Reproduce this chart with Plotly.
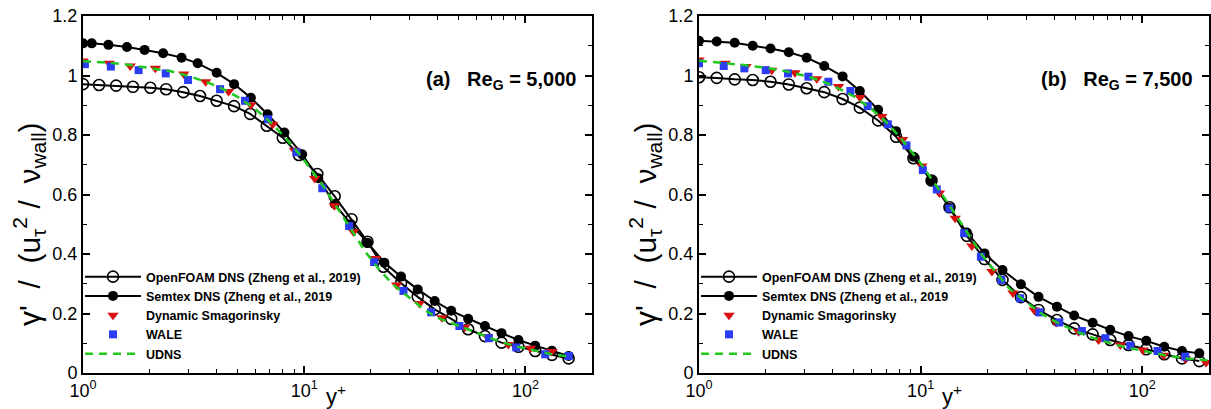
import plotly.graph_objects as go

# ---------------- Re_G = 5,000 ----------------
a_of_x = [1.0, 1.182, 1.412, 1.682, 2.016, 2.376, 2.84, 3.38, 4.02, 4.82, 5.70, 6.77, 8.0, 9.46,
          11.46, 13.73, 16.36, 19.33, 22.79, 27.4, 32.6, 38.9, 46.2, 55.1, 65.6, 78.0, 93.0,
          110.7, 131.8, 156.8]
a_of_y = [0.971, 0.968, 0.966, 0.962, 0.959, 0.954, 0.944, 0.931, 0.915, 0.897, 0.871, 0.831,
          0.791, 0.733, 0.669, 0.594, 0.517, 0.441, 0.357, 0.302, 0.256, 0.214, 0.182, 0.147,
          0.124, 0.102, 0.088, 0.074, 0.061, 0.049]

a_sx_x = [1.0, 1.095, 1.303, 1.580, 1.899, 2.303, 2.79, 3.30, 4.02, 4.82, 5.74, 6.83, 8.14, 9.79,
          11.58, 13.73, 16.27, 19.33, 23.03, 27.4, 32.6, 38.9, 46.2, 55.1, 65.6, 78.0, 93.0,
          110.7, 131.8, 156.8]
a_sx_y = [1.108, 1.108, 1.103, 1.096, 1.086, 1.075, 1.060, 1.041, 1.009, 0.971, 0.925, 0.870,
          0.808, 0.735, 0.655, 0.568, 0.500, 0.438, 0.371, 0.324, 0.281, 0.242, 0.209, 0.182,
          0.158, 0.134, 0.111, 0.092, 0.075, 0.057]

a_ds_x = [1.0, 1.313, 1.635, 2.124, 2.855, 3.585, 4.55, 5.74, 7.21, 9.03, 11.16, 13.69, 16.70,
          21.02, 26.18, 33.2, 41.96, 53.2, 67.2, 83.7, 105.4, 131.7]
a_ds_y = [1.049, 1.041, 1.032, 1.024, 1.005, 0.979, 0.946, 0.901, 0.836, 0.749, 0.654, 0.562,
          0.475, 0.385, 0.296, 0.234, 0.186, 0.154, 0.123, 0.096, 0.083, 0.072]

a_wale_x = [1.02, 1.336, 1.784, 2.366, 2.985, 4.165, 5.40, 6.86, 9.23, 12.07, 15.96, 20.7, 28.1,
            37.5, 50.3, 68.4, 90.9, 122.9, 156.8]
a_wale_y = [1.038, 1.030, 1.018, 1.007, 0.985, 0.954, 0.915, 0.853, 0.742, 0.621, 0.494, 0.373,
            0.276, 0.204, 0.158, 0.117, 0.086, 0.063, 0.057]

a_udns_x = [1, 1.3, 1.6, 2, 2.5, 3, 3.5, 4, 4.5, 5, 6, 7, 8, 9, 10, 12, 14, 16, 19, 22, 25, 30,
            35, 40, 50, 60, 75, 90, 110, 130, 157]
a_udns_y = [1.048, 1.043, 1.036, 1.026, 1.014, 0.998, 0.982, 0.965, 0.947, 0.928, 0.888, 0.844,
            0.800, 0.757, 0.715, 0.635, 0.560, 0.492, 0.405, 0.345, 0.300, 0.252, 0.212, 0.186,
            0.158, 0.135, 0.108, 0.090, 0.075, 0.064, 0.055]

# ---------------- Re_G = 7,500 ----------------
b_grid_x = [1.0, 1.202, 1.449, 1.747, 2.102, 2.541, 3.058, 3.674, 4.445, 5.317, 6.43, 7.75, 9.28,
            11.20, 13.49, 16.17, 19.41, 23.41, 28.34, 34.03, 41.2, 49.3, 59.7, 71.7, 86.7, 104.2,
            125.7, 151.1, 180.8]
b_of_y = [0.994, 0.992, 0.987, 0.985, 0.979, 0.970, 0.957, 0.944, 0.921, 0.892, 0.849, 0.794,
          0.722, 0.647, 0.557, 0.461, 0.383, 0.313, 0.255, 0.212, 0.178, 0.150, 0.130, 0.111,
          0.094, 0.080, 0.063, 0.049, 0.040]
b_sx_y = [1.117, 1.114, 1.110, 1.100, 1.091, 1.078, 1.060, 1.032, 0.997, 0.948, 0.885, 0.813,
          0.727, 0.647, 0.555, 0.472, 0.402, 0.346, 0.298, 0.256, 0.223, 0.193, 0.169, 0.145,
          0.124, 0.108, 0.088, 0.074, 0.066]

b_ds_x = [1.0, 1.31, 1.63, 2.13, 2.71, 3.40, 4.26, 5.33, 6.68, 8.29, 10.13, 12.16, 14.32, 17.03,
          20.97, 26.08, 32.54, 40.9, 51.6, 63.5, 79.6, 100.7, 124.8, 156.4, 193.9]
b_ds_y = [1.052, 1.041, 1.030, 1.018, 1.009, 0.989, 0.963, 0.926, 0.862, 0.785, 0.696, 0.605,
          0.520, 0.427, 0.341, 0.269, 0.212, 0.170, 0.139, 0.111, 0.094, 0.077, 0.060, 0.048,
          0.035]

b_wale_x = [1.0, 1.293, 1.602, 2.0, 2.52, 3.115, 3.835, 4.82, 5.77, 7.11, 8.63, 10.23, 11.83,
            13.49, 15.72, 18.70, 23.13, 28.13, 34.4, 42.2, 53.4, 68.1, 88.3, 117.2, 156.4]
b_wale_y = [1.041, 1.032, 1.024, 1.018, 1.007, 0.996, 0.979, 0.948, 0.897, 0.836, 0.765, 0.682,
            0.617, 0.553, 0.470, 0.391, 0.313, 0.251, 0.204, 0.170, 0.141, 0.117, 0.092, 0.074,
            0.055]

b_udns_x = [1, 1.3, 1.6, 2, 2.5, 3, 3.5, 4, 5, 6, 7, 8, 9, 10, 12, 14, 16, 19, 22, 25, 30, 35,
            40, 50, 60, 75, 90, 110, 130, 160, 200]
b_udns_y = [1.050, 1.043, 1.035, 1.026, 1.013, 0.999, 0.984, 0.967, 0.930, 0.888, 0.843, 0.796,
            0.750, 0.705, 0.620, 0.545, 0.478, 0.395, 0.336, 0.285, 0.238, 0.200, 0.175, 0.140,
            0.118, 0.096, 0.082, 0.068, 0.058, 0.049, 0.042]

series_names = ["OpenFOAM DNS (Zheng et al., 2019)", "Semtex DNS (Zheng et al., 2019",
                "Dynamic Smagorinsky", "WALE", "UDNS"]
panel_labels = ["(a)   Re<sub>G</sub> = 5,000", "(b)   Re<sub>G</sub> = 7,500"]
y_title = "γ'  /  (u<sub>τ</sub><sup>2</sup> /  ν<sub>wall</sub>)"
x_title = "y<sup>+</sup>"

x_ticks = [1, 10, 100]
x_ticktext = ["10<sup>0</sup>", "10<sup>1</sup>", "10<sup>2</sup>"]
x_minor = [m * d for d in (1, 10, 100) for m in range(2, 10) if m * d <= 200]
y_ticks = [0, 0.2, 0.4, 0.6, 0.8, 1, 1.2]
y_ticktext = ["0", "0.2", "0.4", "0.6", "0.8", "1", "1.2"]

BLACK = "#000000"
RED = "#d81010"
BLUE = "#2b3cf5"
GREEN = "#20c820"
FONT = "Liberation Sans, Arial, sans-serif"

fig = go.Figure()


def add_panel(xa, ya, leg, of, sx, ds, wale, udns):
    common = dict(xaxis=xa, yaxis=ya, legend=leg)
    fig.add_trace(go.Scatter(x=of[0], y=of[1], name=series_names[0], mode="lines+markers",
                             line=dict(color=BLACK, width=2),
                             marker=dict(symbol="circle-open", size=11, color=BLACK,
                                         line=dict(width=1.6)), **common))
    fig.add_trace(go.Scatter(x=sx[0], y=sx[1], name=series_names[1], mode="lines+markers",
                             line=dict(color=BLACK, width=2),
                             marker=dict(symbol="circle", size=10, color=BLACK), **common))
    fig.add_trace(go.Scatter(x=ds[0], y=ds[1], name=series_names[2], mode="markers",
                             marker=dict(symbol="triangle-down", size=10, color=RED), **common))
    fig.add_trace(go.Scatter(x=wale[0], y=wale[1], name=series_names[3], mode="markers",
                             marker=dict(symbol="square", size=8, color=BLUE), **common))
    fig.add_trace(go.Scatter(x=udns[0], y=udns[1], name=series_names[4], mode="lines",
                             line=dict(color=GREEN, width=2.5, dash="8px,6px"), **common))


add_panel("x", "y", "legend", (a_of_x, a_of_y), (a_sx_x, a_sx_y), (a_ds_x, a_ds_y),
          (a_wale_x, a_wale_y), (a_udns_x, a_udns_y))
add_panel("x2", "y2", "legend2", (b_grid_x, b_of_y), (b_grid_x, b_sx_y), (b_ds_x, b_ds_y),
          (b_wale_x, b_wale_y), (b_udns_x, b_udns_y))

W, H = 1211, 409
dom_x1 = [83 / W, 592 / W]
dom_x2 = [699 / W, 1209 / W]
dom_y = [(H - 373) / H, (H - 16) / H]

tick_font = dict(family=FONT, size=18, color=BLACK)

xaxis_style = dict(type="log", range=[0, 2.30103], showline=True, linecolor=BLACK, linewidth=2,
                   mirror="ticks", ticks="inside", ticklen=7, tickwidth=1.5, tickcolor=BLACK,
                   tickvals=x_ticks, ticktext=x_ticktext, tickfont=tick_font,
                   showgrid=False, zeroline=False, automargin=False,
                   minor=dict(tickvals=x_minor, ticks="inside", ticklen=4, tickwidth=1.2,
                              tickcolor=BLACK, showgrid=False))
yaxis_style = dict(range=[0, 1.2], showline=True, linecolor=BLACK, linewidth=2, mirror="ticks",
                   ticks="inside", ticklen=7, tickwidth=1.5, tickcolor=BLACK,
                   tickvals=y_ticks, ticktext=y_ticktext, tickfont=tick_font,
                   showgrid=False, zeroline=False, automargin=False,
                   minor=dict(dtick=0.1, ticks="inside", ticklen=4, tickwidth=1.2,
                              tickcolor=BLACK, showgrid=False))

legend_style = dict(font=dict(family=FONT, size=12.5, color=BLACK, weight="bold"),
                    bgcolor="rgba(0,0,0,0)", borderwidth=0, xanchor="left", yanchor="top",
                    itemwidth=56, tracegroupgap=0, traceorder="normal")

annotations = []
for dom, lab in ((dom_x1, panel_labels[0]), (dom_x2, panel_labels[1])):
    annotations.append(dict(text=lab, xref="paper", yref="paper", x=dom[1] - 14 / W,
                            y=(H - 81) / H, xanchor="right", yanchor="middle", showarrow=False,
                            font=dict(family=FONT, size=20, color=BLACK, weight="bold")))
    annotations.append(dict(text=x_title, xref="paper", yref="paper",
                            x=(dom[0] + dom[1]) / 2 - 2 / W, y=(H - 395) / H, xanchor="center",
                            yanchor="middle", showarrow=False,
                            font=dict(family=FONT, size=22, color=BLACK)))
    annotations.append(dict(text=y_title, xref="paper", yref="paper", x=dom[0] - 54 / W,
                            y=(H - 224) / H, xanchor="center", yanchor="middle", textangle=-90,
                            showarrow=False, font=dict(family=FONT, size=30, color=BLACK)))

fig.update_layout(
    width=W, height=H, margin=dict(l=0, r=0, t=0, b=0, autoexpand=False),
    paper_bgcolor="white", plot_bgcolor="white",
    xaxis=dict(domain=dom_x1, anchor="y", **xaxis_style),
    yaxis=dict(domain=dom_y, anchor="x", **yaxis_style),
    xaxis2=dict(domain=dom_x2, anchor="y2", **xaxis_style),
    yaxis2=dict(domain=dom_y, anchor="x2", **yaxis_style),
    legend=dict(x=dom_x1[0] - 3 / W, y=(H - 262) / H, **legend_style),
    legend2=dict(x=dom_x2[0] - 3 / W, y=(H - 262) / H, **legend_style),
    annotations=annotations,
)

fig.write_html("out.html")
